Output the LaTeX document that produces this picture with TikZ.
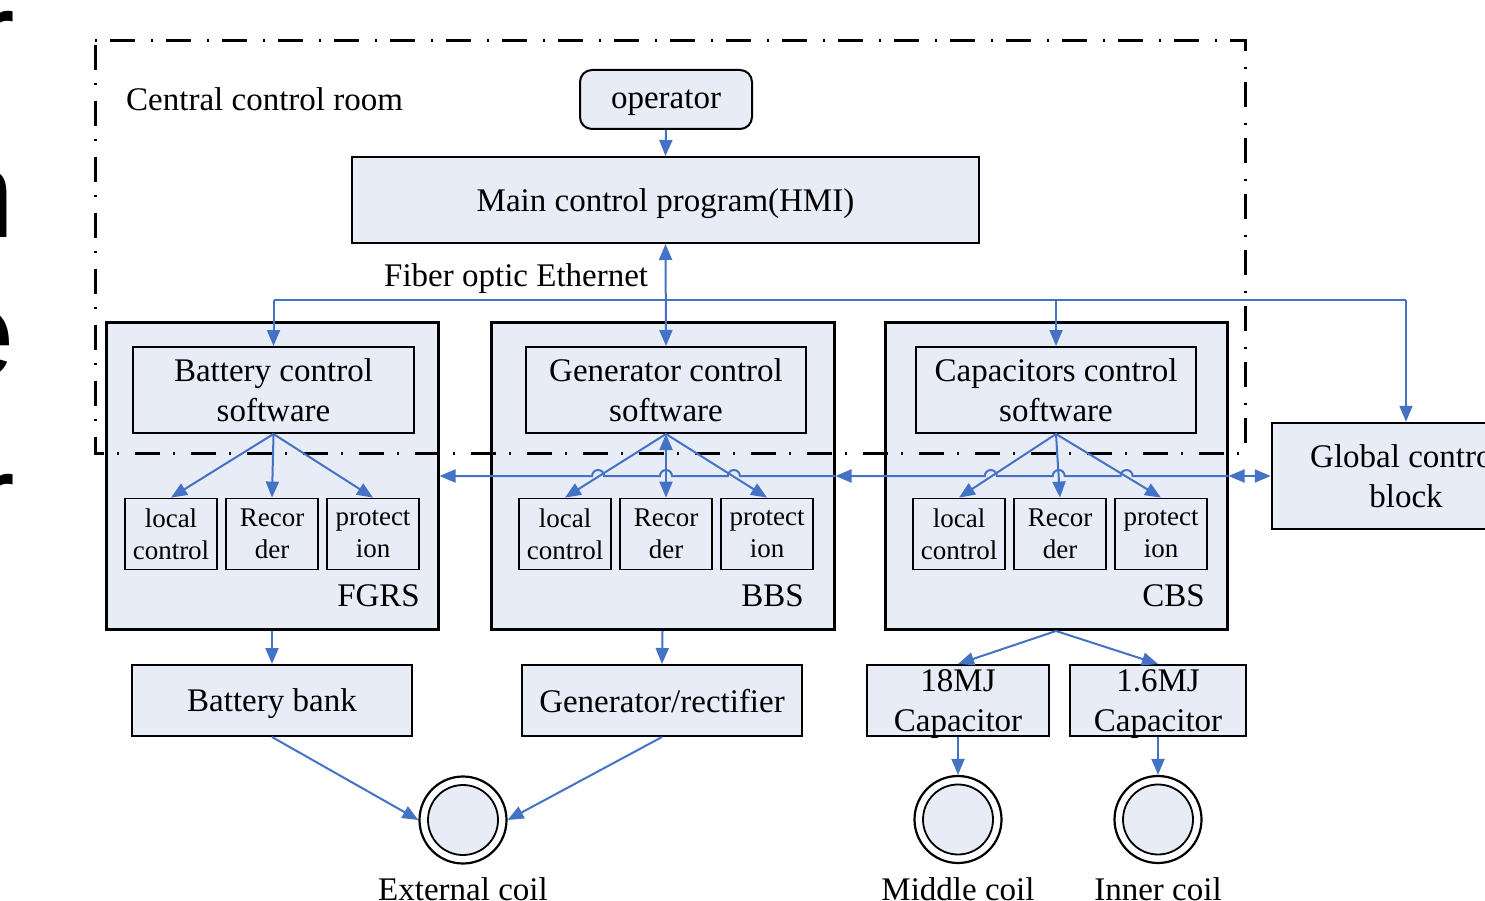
\documentclass[tikz,border=0pt]{standalone}
\usepackage{fontspec}
\setmainfont{Liberation Serif}
\newfontfamily\edgefont{Liberation Sans}
\usetikzlibrary{arrows.meta}
\definecolor{boxfill}{RGB}{231,236,247}
\definecolor{linkblue}{RGB}{68,114,196}
\newcommand{\nodepth}[1]{\raisebox{0pt}[\height][0pt]{#1}}
\begin{document}
\begin{tikzpicture}[x=1pt,y=1pt,
  bigtext/.style={font=\fontsize{33}{40}\selectfont},
  smalltext/.style={font=\fontsize{27}{32}\selectfont},
  box/.style={draw=black, line width=2pt, fill=boxfill, inner sep=0pt, align=center, bigtext},
  oneline/.style={box, text depth=0pt},
  station/.style={draw=black, line width=3pt, fill=boxfill, inner sep=0pt},
  smallbox/.style={draw=black, line width=1.8pt, fill=boxfill, inner sep=0pt, align=center, smalltext, minimum width=92pt, minimum height=71pt},
  link/.style={draw=linkblue, line width=2pt},
  conn/.style={link, -{Triangle[length=16pt,width=13pt]}},
  biconn/.style={link, {Triangle[length=16pt,width=13pt]}-{Triangle[length=16pt,width=13pt]}},
  coilout/.style={circle, draw=black, line width=2.2pt, fill=white, minimum size=87pt, inner sep=0pt},
  coilin/.style={circle, draw=black, line width=1.8pt, fill=boxfill, minimum size=70pt, inner sep=0pt},
  room/.style={draw=black, line width=3pt, dash pattern=on 2pt off 13pt on 25pt off 16pt},
  plaintext/.style={inner sep=0pt, bigtext},
  edgetext/.style={inner sep=0pt, anchor=base east, font=\edgefont\fontsize{125}{125}\selectfont}
]
\useasboundingbox (0,0) rectangle (1485,-901);

% cut-off letters at the left edge
\node[edgetext] (edge1) at (15,-79) {r};
\node[edgetext] (edge2) at (15,-238) {n};
\node[edgetext] (edge3) at (15,-376) {e};
\node[edgetext] (edge4) at (15,-541) {r};

% central control room
\node[plaintext, anchor=base west] (roomlbl) at (126,-111) {Central control room};
\node[oneline, rounded corners=12pt, minimum width=172pt, minimum height=59pt] (op) at (666,-99.5) {operator};
\node[oneline, minimum width=627pt, minimum height=86pt] (main) at (665.5,-200) {Main control program(HMI)};
\node[plaintext, anchor=base west] (fiberlbl) at (384,-287) {Fiber optic Ethernet};

% stations
\node[station, minimum width=332pt, minimum height=307pt] (fgrs) at (272,-476) {};
\node[station, minimum width=343pt, minimum height=307pt] (bbs) at (662.5,-476) {};
\node[station, minimum width=342pt, minimum height=307pt] (cbs) at (1056,-476) {};
\node[plaintext, anchor=base east] (fgrslbl) at (420,-606) {FGRS};
\node[plaintext, anchor=base east] (bbslbl) at (804,-606) {BBS};
\node[plaintext, anchor=base east] (cbslbl) at (1205,-606) {CBS};

\node[box, minimum width=281pt, minimum height=86pt] (batsw) at (273.5,-390) {Battery control\\software};
\node[box, minimum width=280pt, minimum height=86pt] (gensw) at (666,-390) {Generator control\\software};
\node[box, minimum width=280pt, minimum height=86pt] (capsw) at (1056,-390) {Capacitors control\\software};

\node[smallbox] (a1) at (171,-534) {local\\control};
\node[smallbox] (a2) at (272,-534) {Recor\\der};
\node[smallbox] (a3) at (373,-534) {protect\\ion};
\node[smallbox] (b1) at (565,-534) {local\\control};
\node[smallbox] (b2) at (666,-534) {Recor\\der};
\node[smallbox] (b3) at (767,-534) {protect\\ion};
\node[smallbox] (c1) at (959,-534) {local\\control};
\node[smallbox] (c2) at (1060,-534) {Recor\\der};
\node[smallbox] (c3) at (1161,-534) {protect\\ion};

\node[box, line width=2.5pt, minimum width=268pt, minimum height=106pt] (glob) at (1406,-476) {Global control\\block};

% dash-dot boundary of the control room
\draw[room] (95,-41) -- (1245,-41) -- (1245,-453) -- (95,-453) -- cycle;

% lower devices
\node[oneline, minimum width=280pt, minimum height=71pt] (batbank) at (272,-700.5) {Battery bank};
\node[oneline, minimum width=280pt, minimum height=71pt] (genrect) at (662,-700.5) {Generator/rectifier};
\node[box, minimum width=182pt, minimum height=71pt] (cap18) at (958,-700.5) {18MJ\\\nodepth{Capacitor}};
\node[box, minimum width=176pt, minimum height=71pt] (cap16) at (1158,-700.5) {1.6MJ\\\nodepth{Capacitor}};

\node[coilout] (extcoil) at (463,-820) {};
\node[coilin] (extcore) at (463,-820) {};
\node[coilout] (midcoil) at (958,-819.5) {};
\node[coilin] (midcore) at (958,-819.5) {};
\node[coilout] (inncoil) at (1158,-819.5) {};
\node[coilin] (inncore) at (1158,-819.5) {};
\node[plaintext, anchor=base] (extlbl) at (463,-900) {External coil};
\node[plaintext, anchor=base] (midlbl) at (958,-900) {Middle coil};
\node[plaintext, anchor=base] (innlbl) at (1158,-900) {Inner coil};

% connectors: top
\draw[conn] (op.south) -- (main.north);
\draw[biconn] (main.south) -- (gensw.north);
\coordinate (tap1) at (273.5,-300);
\coordinate (tap3) at (1056,-300);
\coordinate (tap4) at (1406,-300);
\draw[link] (tap1) -- (tap4);
\draw[conn] (tap1) -- (batsw.north);
\draw[conn] (tap3) -- (capsw.north);
\draw[conn] (tap4) -- (glob.north);

% fan-outs
\draw[conn] (batsw.south) -- (a1.north);
\draw[conn] (batsw.south) -- (a2.north);
\draw[conn] (batsw.south) -- (a3.north);
\draw[conn] (gensw.south) -- (b1.north);
\draw[biconn] (gensw.south) -- (b2.north);
\draw[conn] (gensw.south) -- (b3.north);
\draw[conn] (capsw.south) -- (c1.north);
\draw[conn] (capsw.south) -- (c2.north);
\draw[conn] (capsw.south) -- (c3.north);

% station bus with hops
\draw[biconn] (glob.west) -- (cbs.east);
\draw[conn] (cbs.east) -- (1132.6,-476) arc[start angle=0, end angle=180, radius=6pt]
  -- (1064.7,-476) arc[start angle=0, end angle=180, radius=6pt]
  -- (996.8,-476) arc[start angle=0, end angle=180, radius=6pt]
  -- (bbs.east);
\draw[conn] (bbs.east) -- (739.9,-476) arc[start angle=0, end angle=180, radius=6pt]
  -- (672,-476) arc[start angle=0, end angle=180, radius=6pt]
  -- (604.1,-476) arc[start angle=0, end angle=180, radius=6pt]
  -- (fgrs.east);

% connectors: bottom
\draw[conn] (fgrs.south) -- (batbank.north);
\draw[conn] (bbs.south) -- (genrect.north);
\draw[conn] (cbs.south) -- (cap18.north);
\draw[conn] (cbs.south) -- (cap16.north);
\draw[conn] (cap18.south) -- (midcoil.north);
\draw[conn] (cap16.south) -- (inncoil.north);
\draw[conn] (batbank.south) -- (extcoil.west);
\draw[conn] (genrect.south) -- (extcoil.east);
\end{tikzpicture}
\end{document}
